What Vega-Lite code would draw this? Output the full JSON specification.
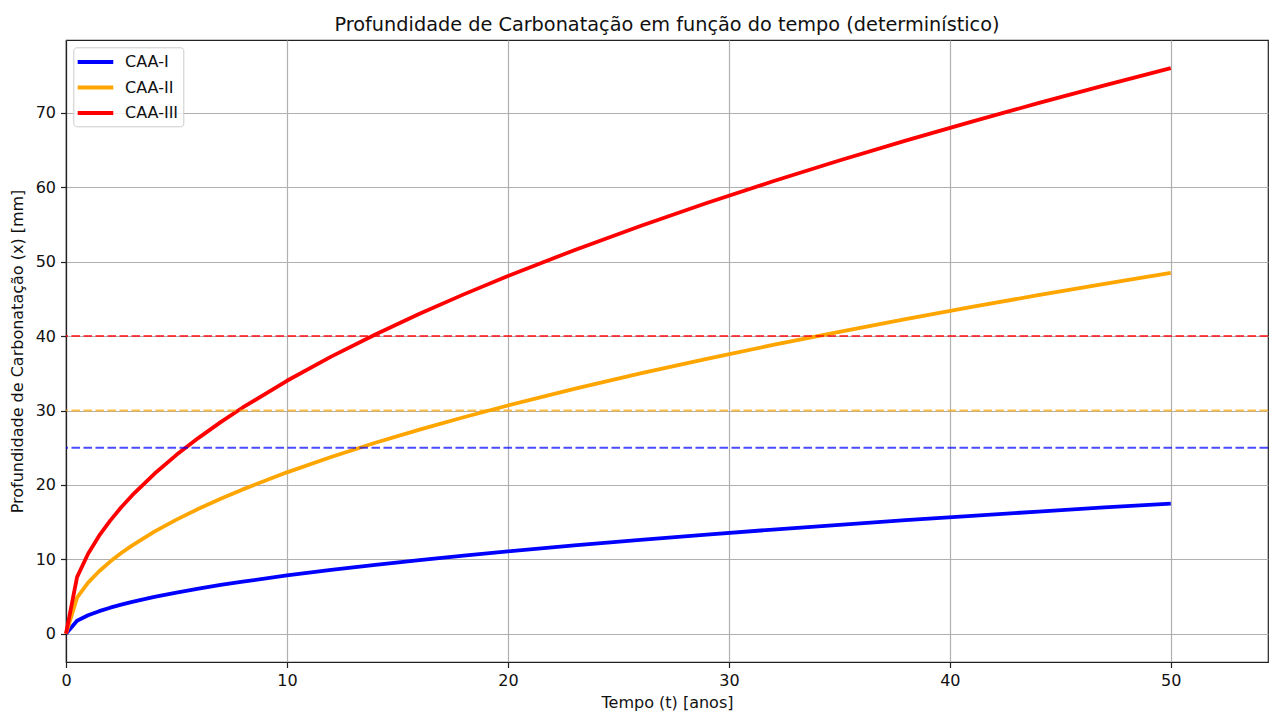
{
  "$schema": "https://vega.github.io/schema/vega-lite/v6.json",
  "width": 1202,
  "height": 622,
  "autosize": {"type": "none"},
  "padding": {"left": 66, "top": 40, "right": 2, "bottom": 49},
  "background": "white",
  "config": {
    "font": "DejaVu Sans",
    "view": {"stroke": "#222", "strokeWidth": 1.2},
    "axis": {
      "labelFont": "DejaVu Sans", "titleFont": "DejaVu Sans",
      "labelFontSize": 16, "titleFontSize": 16, "titleFontWeight": "normal",
      "labelColor": "#111", "titleColor": "#111",
      "domainColor": "#222", "domainWidth": 1.2,
      "tickColor": "#222", "tickSize": 5.5, "tickWidth": 1.2,
      "gridColor": "#b0b0b0", "gridWidth": 1.2, "labelPadding": 5, "labelFlush": false
    }
  },
  "title": {
    "text": "Profundidade de Carbonatação em função do tempo (determinístico)",
    "font": "DejaVu Sans", "fontSize": 19.3, "fontWeight": "normal", "color": "#111",
    "anchor": "middle", "offset": 5
  },
  "datasets": {
    "curvas": [
      {"classe": "CAA-I", "t": 0, "x": 0}, {"classe": "CAA-I", "t": 0.5, "x": 1.75}, {"classe": "CAA-I", "t": 1, "x": 2.48}, {"classe": "CAA-I", "t": 1.5, "x": 3.03}, {"classe": "CAA-I", "t": 2, "x": 3.5}, {"classe": "CAA-I", "t": 2.5, "x": 3.91}, {"classe": "CAA-I", "t": 3, "x": 4.29}, {"classe": "CAA-I", "t": 4, "x": 4.95}, {"classe": "CAA-I", "t": 5, "x": 5.53}, {"classe": "CAA-I", "t": 6, "x": 6.06}, {"classe": "CAA-I", "t": 7, "x": 6.55}, {"classe": "CAA-I", "t": 8, "x": 7.0}, {"classe": "CAA-I", "t": 10, "x": 7.83}, {"classe": "CAA-I", "t": 12, "x": 8.57}, {"classe": "CAA-I", "t": 14, "x": 9.26}, {"classe": "CAA-I", "t": 16, "x": 9.9}, {"classe": "CAA-I", "t": 18, "x": 10.5}, {"classe": "CAA-I", "t": 20, "x": 11.07}, {"classe": "CAA-I", "t": 23, "x": 11.87}, {"classe": "CAA-I", "t": 26, "x": 12.62}, {"classe": "CAA-I", "t": 29, "x": 13.33}, {"classe": "CAA-I", "t": 32, "x": 14.0}, {"classe": "CAA-I", "t": 35, "x": 14.64}, {"classe": "CAA-I", "t": 38, "x": 15.26}, {"classe": "CAA-I", "t": 41, "x": 15.85}, {"classe": "CAA-I", "t": 44, "x": 16.42}, {"classe": "CAA-I", "t": 47, "x": 16.97}, {"classe": "CAA-I", "t": 50, "x": 17.5},
      {"classe": "CAA-II", "t": 0, "x": 0}, {"classe": "CAA-II", "t": 0.5, "x": 4.85}, {"classe": "CAA-II", "t": 1, "x": 6.86}, {"classe": "CAA-II", "t": 1.5, "x": 8.4}, {"classe": "CAA-II", "t": 2, "x": 9.7}, {"classe": "CAA-II", "t": 2.5, "x": 10.85}, {"classe": "CAA-II", "t": 3, "x": 11.88}, {"classe": "CAA-II", "t": 4, "x": 13.72}, {"classe": "CAA-II", "t": 5, "x": 15.34}, {"classe": "CAA-II", "t": 6, "x": 16.8}, {"classe": "CAA-II", "t": 7, "x": 18.15}, {"classe": "CAA-II", "t": 8, "x": 19.4}, {"classe": "CAA-II", "t": 10, "x": 21.69}, {"classe": "CAA-II", "t": 12, "x": 23.76}, {"classe": "CAA-II", "t": 14, "x": 25.67}, {"classe": "CAA-II", "t": 16, "x": 27.44}, {"classe": "CAA-II", "t": 18, "x": 29.1}, {"classe": "CAA-II", "t": 20, "x": 30.68}, {"classe": "CAA-II", "t": 23, "x": 32.9}, {"classe": "CAA-II", "t": 26, "x": 34.98}, {"classe": "CAA-II", "t": 29, "x": 36.94}, {"classe": "CAA-II", "t": 32, "x": 38.81}, {"classe": "CAA-II", "t": 35, "x": 40.58}, {"classe": "CAA-II", "t": 38, "x": 42.29}, {"classe": "CAA-II", "t": 41, "x": 43.92}, {"classe": "CAA-II", "t": 44, "x": 45.5}, {"classe": "CAA-II", "t": 47, "x": 47.03}, {"classe": "CAA-II", "t": 50, "x": 48.51},
      {"classe": "CAA-III", "t": 0, "x": 0}, {"classe": "CAA-III", "t": 0.5, "x": 7.6}, {"classe": "CAA-III", "t": 1, "x": 10.75}, {"classe": "CAA-III", "t": 1.5, "x": 13.17}, {"classe": "CAA-III", "t": 2, "x": 15.2}, {"classe": "CAA-III", "t": 2.5, "x": 17.0}, {"classe": "CAA-III", "t": 3, "x": 18.62}, {"classe": "CAA-III", "t": 4, "x": 21.5}, {"classe": "CAA-III", "t": 5, "x": 24.04}, {"classe": "CAA-III", "t": 6, "x": 26.33}, {"classe": "CAA-III", "t": 7, "x": 28.44}, {"classe": "CAA-III", "t": 8, "x": 30.41}, {"classe": "CAA-III", "t": 10, "x": 34.0}, {"classe": "CAA-III", "t": 12, "x": 37.24}, {"classe": "CAA-III", "t": 14, "x": 40.22}, {"classe": "CAA-III", "t": 16, "x": 43.0}, {"classe": "CAA-III", "t": 18, "x": 45.61}, {"classe": "CAA-III", "t": 20, "x": 48.08}, {"classe": "CAA-III", "t": 23, "x": 51.55}, {"classe": "CAA-III", "t": 26, "x": 54.81}, {"classe": "CAA-III", "t": 29, "x": 57.89}, {"classe": "CAA-III", "t": 32, "x": 60.81}, {"classe": "CAA-III", "t": 35, "x": 63.6}, {"classe": "CAA-III", "t": 38, "x": 66.27}, {"classe": "CAA-III", "t": 41, "x": 68.83}, {"classe": "CAA-III", "t": 44, "x": 71.31}, {"classe": "CAA-III", "t": 47, "x": 73.7}, {"classe": "CAA-III", "t": 50, "x": 76.01}
    ],
    "limites": [
      {"classe": "CAA-I", "limite": 25},
      {"classe": "CAA-II", "limite": 30},
      {"classe": "CAA-III", "limite": 40}
    ]
  },
  "resolve": {"scale": {"color": "independent"}, "legend": {"color": "independent"}},
  "layer": [
    {
      "data": {"name": "curvas"},
      "mark": {"type": "line", "strokeWidth": 3.8, "strokeCap": "butt", "strokeJoin": "round"},
      "encoding": {
        "x": {
          "field": "t", "type": "quantitative",
          "scale": {"domain": [0, 54.4], "nice": false, "zero": false},
          "axis": {"values": [0, 10, 20, 30, 40, 50], "grid": true, "title": "Tempo (t) [anos]", "titlePadding": 6}
        },
        "y": {
          "field": "x", "type": "quantitative",
          "scale": {"domain": [-3.8, 79.8], "nice": false, "zero": false},
          "axis": {"values": [0, 10, 20, 30, 40, 50, 60, 70], "grid": true, "title": "Profundidade de Carbonatação (x) [mm]", "titlePadding": 10}
        },
        "color": {
          "field": "classe", "type": "nominal",
          "scale": {"domain": ["CAA-I", "CAA-II", "CAA-III"], "range": ["#0000ff", "#ffa500", "#ff0000"]},
          "legend": {
            "title": null, "orient": "none", "legendX": 7.3, "legendY": 7.3,
            "symbolType": "M-1.29,0H3.16", "symbolSize": 256, "symbolStrokeWidth": 3.8, "symbolOpacity": 1,
            "labelFontSize": 16, "labelFont": "DejaVu Sans", "labelColor": "#111", "labelOffset": 27,
            "rowPadding": 7.5, "padding": 4.7, "strokeColor": "#cccccc", "fillColor": "rgba(255,255,255,0.8)",
            "cornerRadius": 3
          }
        }
      }
    },
    {
      "data": {"name": "limites"},
      "mark": {"type": "rule", "strokeWidth": 2, "strokeDash": [8.5, 3.5], "opacity": 0.7},
      "encoding": {
        "y": {"field": "limite", "type": "quantitative"},
        "color": {
          "field": "classe", "type": "nominal",
          "scale": {"domain": ["CAA-I", "CAA-II", "CAA-III"], "range": ["#0000ff", "#ffa500", "#ff0000"]},
          "legend": null
        }
      }
    }
  ]
}
